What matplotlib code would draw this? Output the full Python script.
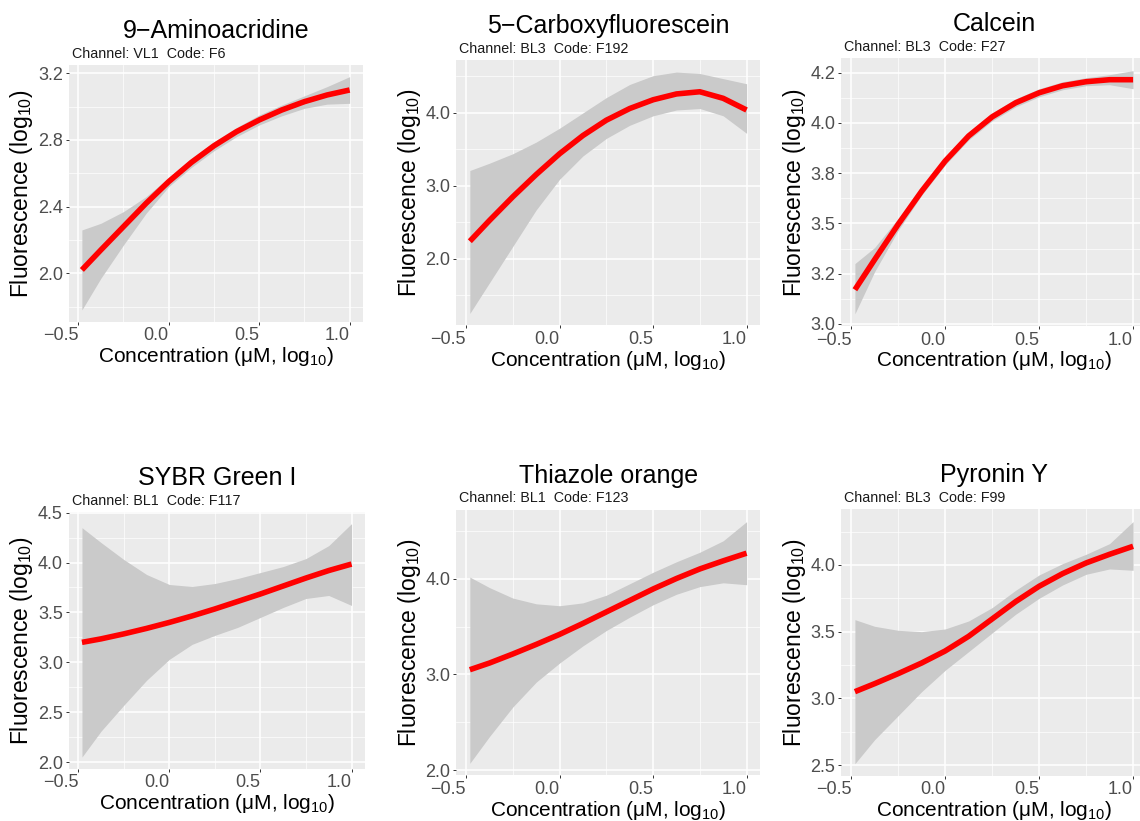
import matplotlib
matplotlib.use("Agg")
import matplotlib.pyplot as plt
from matplotlib.ticker import AutoMinorLocator

plt.rcParams['font.family'] = ['Liberation Sans', 'DejaVu Sans']
plt.rcParams['mathtext.fontset'] = 'custom'
plt.rcParams['mathtext.rm'] = 'Liberation Sans'
plt.rcParams['mathtext.it'] = 'Liberation Sans:italic'
plt.rcParams['mathtext.bf'] = 'Liberation Sans:bold'

# concentration grid (log10 uM) shared by all dyes
conc = [-0.48, -0.375, -0.25, -0.125, 0.0, 0.125, 0.25, 0.375, 0.5, 0.625, 0.75, 0.875, 1.0]

# loess fit + confidence band
amino_fit = [2.02, 2.14, 2.28, 2.42, 2.55, 2.665, 2.765, 2.85, 2.92, 2.98, 3.03, 3.07, 3.10]
amino_lo = [1.78, 1.97, 2.17, 2.36, 2.52, 2.635, 2.735, 2.82, 2.89, 2.945, 2.99, 3.015, 3.02]
amino_hi = [2.26, 2.30, 2.37, 2.46, 2.575, 2.69, 2.79, 2.875, 2.95, 3.01, 3.065, 3.12, 3.18]

carboxy_fit = [2.24, 2.525, 2.85, 3.155, 3.44, 3.69, 3.90, 4.06, 4.18, 4.26, 4.29, 4.20, 4.04]
carboxy_lo = [1.25, 1.67, 2.17, 2.67, 3.09, 3.41, 3.65, 3.83, 3.96, 4.04, 4.06, 3.96, 3.72]
carboxy_hi = [3.21, 3.31, 3.44, 3.60, 3.79, 4.00, 4.21, 4.39, 4.51, 4.56, 4.54, 4.47, 4.40]

calcein_fit = [3.17, 3.32, 3.495, 3.66, 3.81, 3.935, 4.03, 4.10, 4.15, 4.185, 4.205, 4.215, 4.215]
calcein_lo = [3.05, 3.26, 3.465, 3.64, 3.79, 3.915, 4.01, 4.08, 4.13, 4.165, 4.185, 4.19, 4.17]
calcein_hi = [3.30, 3.38, 3.525, 3.68, 3.83, 3.955, 4.05, 4.12, 4.17, 4.205, 4.225, 4.24, 4.26]

sybr_fit = [3.20, 3.235, 3.285, 3.34, 3.40, 3.465, 3.535, 3.61, 3.685, 3.765, 3.845, 3.92, 3.985]
sybr_lo = [2.05, 2.31, 2.57, 2.82, 3.03, 3.18, 3.27, 3.35, 3.45, 3.55, 3.64, 3.67, 3.57]
sybr_hi = [4.35, 4.20, 4.03, 3.88, 3.78, 3.76, 3.79, 3.84, 3.90, 3.96, 4.04, 4.17, 4.39]

thiazole_fit = [3.05, 3.12, 3.215, 3.315, 3.42, 3.535, 3.655, 3.775, 3.895, 4.005, 4.105, 4.19, 4.27]
thiazole_lo = [2.07, 2.35, 2.66, 2.92, 3.12, 3.30, 3.46, 3.60, 3.73, 3.84, 3.92, 3.96, 3.94]
thiazole_hi = [4.02, 3.91, 3.80, 3.74, 3.72, 3.75, 3.83, 3.95, 4.07, 4.18, 4.28, 4.40, 4.60]

pyronin_fit = [3.05, 3.11, 3.185, 3.265, 3.355, 3.465, 3.595, 3.725, 3.84, 3.935, 4.015, 4.08, 4.14]
pyronin_lo = [2.51, 2.69, 2.87, 3.05, 3.21, 3.35, 3.49, 3.63, 3.75, 3.85, 3.93, 3.97, 3.96]
pyronin_hi = [3.59, 3.54, 3.51, 3.50, 3.52, 3.58, 3.68, 3.81, 3.925, 4.01, 4.08, 4.16, 4.325]

titles = ["9\u2212Aminoacridine", "5\u2212Carboxyfluorescein", "Calcein",
          "SYBR Green I", "Thiazole orange", "Pyronin Y"]
subtitles = ["Channel: VL1  Code: F6", "Channel: BL3  Code: F192", "Channel: BL3  Code: F27",
             "Channel: BL1  Code: F117", "Channel: BL1  Code: F123", "Channel: BL3  Code: F99"]

xticks = [-0.5, 0.0, 0.5, 1.0]
xticklabels = ["\u22120.5", "0.0", "0.5", "1.0"]
yticks = [[2.0, 2.4, 2.8, 3.2], [2.0, 3.0, 4.0], [3.0, 3.25, 3.5, 3.75, 4.0, 4.25],
          [2.0, 2.5, 3.0, 3.5, 4.0, 4.5], [2.0, 3.0, 4.0], [2.5, 3.0, 3.5, 4.0]]
yticklabels = [["2.0", "2.4", "2.8", "3.2"], ["2.0", "3.0", "4.0"],
               ["3.0", "3.2", "3.5", "3.8", "4.0", "4.2"],
               ["2.0", "2.5", "3.0", "3.5", "4.0", "4.5"], ["2.0", "3.0", "4.0"],
               ["2.5", "3.0", "3.5", "4.0"]]

fits = [amino_fit, carboxy_fit, calcein_fit, sybr_fit, thiazole_fit, pyronin_fit]
lows = [amino_lo, carboxy_lo, calcein_lo, sybr_lo, thiazole_lo, pyronin_lo]
highs = [amino_hi, carboxy_hi, calcein_hi, sybr_hi, thiazole_hi, pyronin_hi]

W, H = 1140, 821
# panel boxes in pixels: left, top, right, bottom
boxes = [(68.5, 65, 363, 321.6), (456, 60, 760.4, 325.5), (841, 58.5, 1147, 326),
         (68.5, 512, 365, 768.7), (456, 509.6, 760.4, 775.4), (841, 509.5, 1147, 775.8)]

fig = plt.figure(figsize=(W / 100, H / 100), dpi=100)

for i in range(6):
    l, t, r, b = boxes[i]
    ax = fig.add_axes([l / W, (H - b) / H, (r - l) / W, (b - t) / H])
    ax.set_facecolor('#EBEBEB')
    for s in ax.spines.values():
        s.set_visible(False)

    ax.fill_between(conc, lows[i], highs[i], color='#CACACA', lw=0, zorder=2)
    ax.plot(conc, fits[i], color='#FF0000', lw=4, solid_capstyle='butt',
            solid_joinstyle='round', zorder=3)

    ax.set_xticks(xticks)
    ax.set_xticklabels(xticklabels, ha='right')
    ax.set_yticks(yticks[i])
    ax.set_yticklabels(yticklabels[i])
    ax.xaxis.set_minor_locator(AutoMinorLocator(2))
    ax.yaxis.set_minor_locator(AutoMinorLocator(2))
    ax.grid(which='major', color='white', lw=1.1, zorder=0)
    ax.grid(which='minor', color='white', lw=0.5, zorder=0)
    ax.set_axisbelow(True)
    ax.tick_params(which='major', length=2.5, width=0.7, color='#333333',
                   labelsize=13, labelcolor='#4D4D4D', pad=1.5)
    ax.tick_params(which='minor', length=0)

    ax.set_xlabel("Concentration (\u03bcM, log$_{10}$)", fontsize=15, labelpad=0.5)
    ax.set_ylabel("Fluorescence (log$_{10}$)", fontsize=16.5, labelpad=2)

    ax.annotate(titles[i], xy=(0.5, 1), xycoords='axes fraction', xytext=(0, 19.5),
                textcoords='offset points', ha='center', va='baseline', fontsize=18)
    ax.annotate(subtitles[i], xy=(0, 1), xycoords='axes fraction', xytext=(2.5, 5.3),
                textcoords='offset points', ha='left', va='baseline', fontsize=10.3,
                color='#1A1A1A')

fig.savefig("out.png", dpi=100)
